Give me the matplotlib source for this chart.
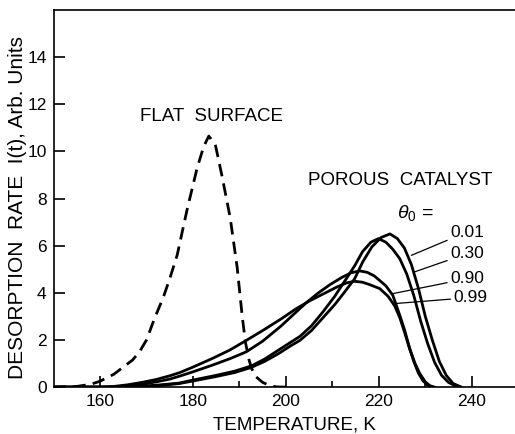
import numpy as np
import matplotlib
matplotlib.use("Agg")
import matplotlib.pyplot as plt

plt.rcParams['font.family'] = ['Liberation Sans', 'DejaVu Sans']
plt.rcParams['mathtext.fontset'] = 'custom'
plt.rcParams['mathtext.rm'] = 'Liberation Sans'
plt.rcParams['mathtext.it'] = 'Liberation Sans:italic'

# flat surface (dashed)
t_flat = [150, 155, 158, 160, 163, 165, 167, 168.5, 170, 171.8, 173.6, 175, 176.6,
          178.7, 180.9, 182.3, 183.4, 184.8, 186.2, 188, 189.5, 190.6, 191.3, 192,
          192.6, 193.5, 195, 196.5, 198, 200]
i_flat = [0, 0.03, 0.12, 0.25, 0.55, 0.85, 1.15, 1.5, 2.0, 2.95, 3.8, 4.6, 5.6,
          7.5, 9.3, 10.2, 10.65, 10.3, 9.0, 7.2, 5.1, 3.0, 1.9, 1.2,
          0.8, 0.45, 0.2, 0.07, 0.01, 0]

# porous catalyst, theta0 = 0.01
t_001 = [150, 165, 169, 173, 177, 180, 185, 189, 192.6, 195.5, 198.4, 201, 203,
         205.5, 208, 210.5, 212.5, 214.8, 216.5, 218.5, 220.5, 222.4, 224, 225.5,
         227, 228.5, 230, 231.5, 233, 234.5, 236, 237.8]
i_001 = [0, 0, 0.02, 0.07, 0.15, 0.26, 0.45, 0.62, 0.84, 1.1, 1.42, 1.75, 1.98,
         2.4, 2.95, 3.5, 4.0, 4.6, 5.3, 5.95, 6.35, 6.5, 6.3, 5.9,
         5.2, 4.2, 3.0, 2.0, 1.1, 0.5, 0.15, 0]

# theta0 = 0.30
t_030 = [150, 165, 168, 172, 177, 180, 185, 189, 192.6, 195.5, 198.4, 201, 203,
         205.5, 208, 210.5, 213, 214.8, 216.5, 218.3, 219.9, 221.5, 223, 224.5,
         226, 227.5, 229, 230.5, 232, 233.5, 235, 236.5, 237.5]
i_030 = [0, 0, 0.03, 0.08, 0.17, 0.3, 0.5, 0.68, 0.9, 1.2, 1.57, 1.9, 2.15,
         2.6, 3.2, 3.85, 4.6, 5.15, 5.75, 6.15, 6.3, 6.15, 5.85, 5.45,
         4.8, 3.9, 2.8, 1.85, 1.05, 0.5, 0.2, 0.05, 0]

# theta0 = 0.90
t_090 = [150, 163, 166, 169, 172, 175, 177.2, 180, 184, 188, 191.5, 195, 199,
         202, 204.5, 207, 209.5, 212, 214, 215.9, 217.5, 219, 220.2, 221.5, 223,
         224.5, 225.5, 226.7, 227.8, 228.8, 230, 231, 232]
i_090 = [0, 0, 0.05, 0.12, 0.22, 0.34, 0.47, 0.65, 0.92, 1.21, 1.5, 1.95, 2.6,
         3.15, 3.6, 4.0, 4.35, 4.65, 4.85, 4.93, 4.87, 4.72, 4.52, 4.3, 3.9,
         3.05, 2.45, 1.6, 1.0, 0.58, 0.22, 0.06, 0]

# theta0 = 0.99
t_099 = [150, 160, 163, 166, 169, 172, 175, 177.2, 180, 184, 187.9, 191.2, 195,
         199.1, 202, 205, 208, 211, 213, 214.8, 216.5, 218, 220.2, 222, 223.4,
         224.5, 225.5, 226.5, 227.5, 228.5, 229.5, 230.5, 231.5]
i_099 = [0, 0, 0.03, 0.1, 0.2, 0.32, 0.48, 0.62, 0.85, 1.2, 1.57, 1.95, 2.4,
         2.91, 3.3, 3.65, 3.95, 4.25, 4.42, 4.49, 4.45, 4.35, 4.18, 3.85, 3.45,
         2.95, 2.35, 1.7, 1.1, 0.6, 0.27, 0.08, 0]

theta_labels = ['0.01', '0.30', '0.90', '0.99']
# label anchor (T, I) and point on curve the leader touches
label_xy = [(235.3, 6.58), (235.3, 5.66), (235.3, 4.6), (236.0, 3.8)]
leader_xy = [(227.0, 5.59), (227.7, 4.89), (223.1, 3.97), (223.8, 3.55)]

fig = plt.figure(figsize=(5.15, 4.34), dpi=100)
ax = fig.add_axes([0.104, 0.108, 0.896, 0.869])

ax.plot(t_flat, i_flat, color='black', lw=2.0, ls=(0, (4.5, 2.6)))
for t, i in [(t_001, i_001), (t_030, i_030), (t_090, i_090), (t_099, i_099)]:
    ax.plot(t, i, color='black', lw=2.0, solid_joinstyle='round')

ax.set_xlim(150, 249.3)
ax.set_ylim(0, 16)
ax.set_xticks([160, 180, 200, 220, 240])
ax.set_xticks([170, 190, 210, 230], minor=True)
ax.set_yticks(np.arange(0, 16, 2))
ax.tick_params(direction='in', length=8, width=1.2, labelsize=12.5, pad=5)
ax.tick_params(which='minor', direction='in', length=4.5, width=1.2)
ax.spines['right'].set_visible(False)
for s in ['left', 'bottom', 'top']:
    ax.spines[s].set_linewidth(1.2)

ax.set_xlabel('TEMPERATURE, K', fontsize=13.5)
ax.set_ylabel('DESORPTION  RATE  I(t), Arb. Units', fontsize=15)
ax.xaxis.set_label_coords(0.522, -0.078)
ax.yaxis.set_label_coords(-0.058, 0.475)

ax.text(184, 11.5, 'FLAT  SURFACE', fontsize=13.5, ha='center', va='center')
ax.text(224.5, 8.77, 'POROUS  CATALYST', fontsize=13.5, ha='center', va='center')
ax.text(227.8, 7.4, r'$\theta_0$ =', fontsize=14, ha='center', va='center')

for lab, (lx, ly), (cx, cy) in zip(theta_labels, label_xy, leader_xy):
    ax.annotate(lab, xy=(cx, cy), xytext=(lx, ly), fontsize=12.5, ha='left', va='center',
                arrowprops=dict(arrowstyle='-', color='black', lw=0.9,
                                shrinkA=0, shrinkB=0))

fig.savefig('out.png', dpi=100)
